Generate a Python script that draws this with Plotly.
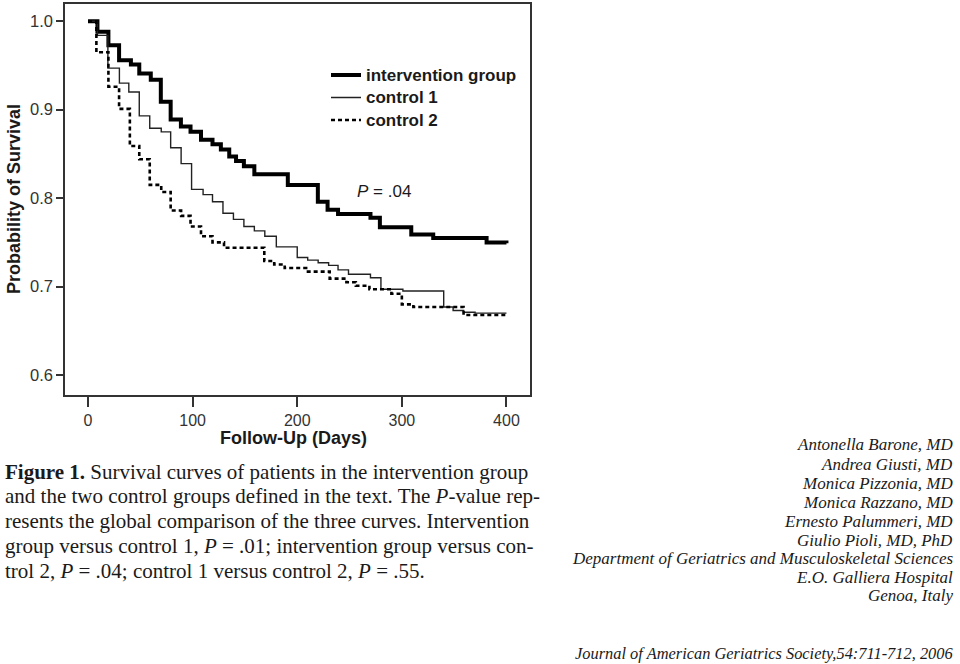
import plotly.graph_objects as go

# ---------------- data ----------------
interv_days = [0, 9, 19.5, 29.7, 41, 49, 60, 69.6, 79, 88.8, 98, 108, 119, 127, 135, 141.5,
               149, 159, 191, 219.7, 229, 239, 270, 279, 309, 330, 381, 400]
interv_surv = [1.0, 0.988, 0.973, 0.956, 0.951, 0.941, 0.934, 0.909, 0.889, 0.881, 0.875, 0.866,
               0.861, 0.855, 0.847, 0.842, 0.836, 0.827, 0.815, 0.796, 0.787, 0.782, 0.778, 0.767,
               0.759, 0.755, 0.750, 0.749]

ctrl1_days = [0, 9, 19, 30, 39, 49, 59, 70, 79, 89, 99, 110, 119, 129, 139, 149, 159, 169, 180,
              200, 210, 220, 230, 239, 249, 270, 280, 301, 340, 349, 359, 370, 400]
ctrl1_surv = [1.0, 0.984, 0.947, 0.930, 0.920, 0.893, 0.879, 0.875, 0.857, 0.839, 0.810, 0.804,
              0.796, 0.783, 0.776, 0.768, 0.763, 0.757, 0.745, 0.733, 0.730, 0.727, 0.724, 0.719,
              0.714, 0.710, 0.697, 0.695, 0.677, 0.673, 0.671, 0.670, 0.670]

ctrl2_days = [0, 8, 19.5, 29.7, 40, 49, 59, 70, 79, 89, 98, 108, 119, 130, 168.5, 178, 188, 208.5,
              231, 247, 256, 269, 290, 300, 311, 359, 400]
ctrl2_surv = [1.0, 0.965, 0.926, 0.901, 0.859, 0.844, 0.815, 0.807, 0.786, 0.780, 0.768, 0.757,
              0.750, 0.744, 0.729, 0.725, 0.721, 0.717, 0.709, 0.705, 0.701, 0.697, 0.692, 0.680,
              0.677, 0.668, 0.668]

x_ticks = [0, 100, 200, 300, 400]
y_ticks = [0.6, 0.7, 0.8, 0.9, 1.0]
y_tick_labels = ["0.6", "0.7", "0.8", "0.9", "1.0"]

series_names = ["intervention group", "control 1", "control 2"]

caption_lines = [
    "<b>Figure 1.</b> Survival curves of patients in the intervention group",
    "and the two control groups defined in the text. The <i>P</i>-value rep-",
    "resents the global comparison of the three curves. Intervention",
    "group versus control 1, <i>P</i> = .01; intervention group versus con-",
    "trol 2, <i>P</i> = .04; control 1 versus control 2, <i>P</i> = .55.",
]
author_lines = [
    "Antonella Barone, MD",
    "Andrea Giusti, MD",
    "Monica Pizzonia, MD",
    "Monica Razzano, MD",
    "Ernesto Palummeri, MD",
    "Giulio Pioli, MD, PhD",
    "Department of Geriatrics and Musculoskeletal Sciences",
    "E.O. Galliera Hospital",
    "Genoa, Italy",
]
journal_line = "Journal of American Geriatrics Society,54:711-712, 2006"

# ---------------- layout geometry ----------------
W, H = 960, 664
PL, PR, PT, PB = 65, 530, 2, 395   # plot area in pixels


def px_x(px):
    return (px - PL) / (PR - PL)


def px_y(py):
    return (PB - py) / (PB - PT)


SANS = "Liberation Sans, Arial, sans-serif"
SERIF = "Liberation Serif, Times New Roman, serif"
INK = "#1a1a1a"
AX = "#333333"

fig = go.Figure()
fig.add_trace(go.Scatter(x=interv_days, y=interv_surv, mode="lines", line_shape="hv",
                         name='<span style="font-size:17px"><b>%s</b></span>' % series_names[0],
                         line=dict(color="black", width=4)))
fig.add_trace(go.Scatter(x=ctrl1_days, y=ctrl1_surv, mode="lines", line_shape="hv",
                         name='<span style="font-size:17px"><b>%s</b></span>' % series_names[1],
                         line=dict(color="#222222", width=1.4)))
fig.add_trace(go.Scatter(x=ctrl2_days, y=ctrl2_surv, mode="lines", line_shape="hv",
                         name='<span style="font-size:17px"><b>%s</b></span>' % series_names[2],
                         line=dict(color="black", width=2.6, dash="4px,3px")))

annotations = []
# P-value
annotations.append(dict(x=255, y=0.808, xref="x", yref="y", xanchor="left", yanchor="middle",
                        text="<i>P</i> = .04", showarrow=False,
                        font=dict(family=SANS, size=17, color=INK)))
# axis titles
annotations.append(dict(x=px_x(14), y=px_y(198), xref="paper", yref="paper",
                        text="<b>Probability of Survival</b>", textangle=-90, showarrow=False,
                        xanchor="center", yanchor="middle",
                        font=dict(family=SANS, size=18, color=INK)))
annotations.append(dict(x=px_x(293), y=px_y(438), xref="paper", yref="paper",
                        text="<b>Follow-Up (Days)</b>", showarrow=False,
                        xanchor="center", yanchor="middle",
                        font=dict(family=SANS, size=18, color=INK)))
# caption
cap_y = [472, 497, 522, 547, 572]
for t, yy in zip(caption_lines, cap_y):
    annotations.append(dict(x=px_x(3), y=px_y(yy), xref="paper", yref="paper", text=t,
                            showarrow=False, xanchor="left", yanchor="middle",
                            font=dict(family=SERIF, size=21, color=INK)))
# authors
auth_y = [445, 465, 484, 503, 522, 541, 559, 578, 597]
for t, yy in zip(author_lines, auth_y):
    annotations.append(dict(x=px_x(955), y=px_y(yy), xref="paper", yref="paper",
                            text="<i>%s</i>" % t, showarrow=False,
                            xanchor="right", yanchor="middle",
                            font=dict(family=SERIF, size=17, color=INK)))
annotations.append(dict(x=px_x(955), y=px_y(655), xref="paper", yref="paper",
                        text="<i>%s</i>" % journal_line, showarrow=False,
                        xanchor="right", yanchor="middle",
                        font=dict(family=SERIF, size=16.4, color=INK)))

fig.update_layout(
    width=W, height=H,
    margin=dict(l=PL, r=W - PR, t=PT, b=H - PB, pad=0),
    paper_bgcolor="white", plot_bgcolor="white",
    showlegend=True,
    legend=dict(x=px_x(326), y=px_y(57), xanchor="left", yanchor="top",
                bgcolor="rgba(0,0,0,0)", borderwidth=0,
                font=dict(family=SANS, size=15, color=INK), traceorder="normal"),
    xaxis=dict(range=[-22, 422.5], tickvals=x_ticks, ticks="outside", ticklen=10,
               tickwidth=1.5, tickcolor=AX, showline=True, mirror=True, linecolor=AX,
               linewidth=1.5, showgrid=False, zeroline=False,
               tickfont=dict(family=SANS, size=16, color="#333333")),
    yaxis=dict(range=[0.5775, 1.0195], tickvals=y_ticks, ticktext=y_tick_labels,
               ticks="outside", ticklen=7, tickwidth=1.5, tickcolor=AX, showline=True,
               mirror=True, linecolor=AX, linewidth=1.5, showgrid=False, zeroline=False,
               tickfont=dict(family=SANS, size=16.5, color="#333333")),
    annotations=annotations,
)

fig.write_html("out.html")
